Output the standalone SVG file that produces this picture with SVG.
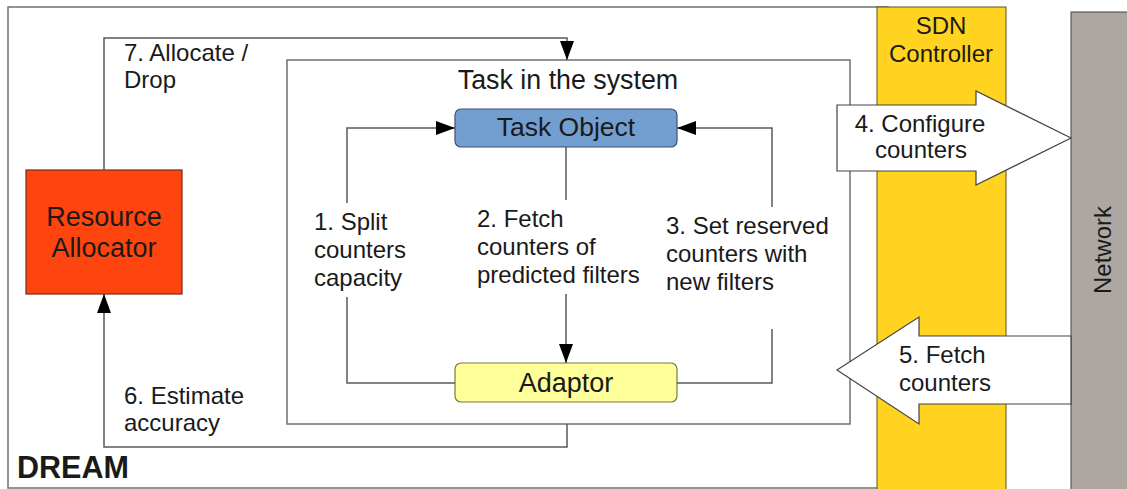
<svg xmlns="http://www.w3.org/2000/svg" width="1127" height="489" viewBox="0 0 1127 489">
  <defs>
    <marker id="head" markerUnits="userSpaceOnUse" markerWidth="20" markerHeight="14" refX="19" refY="7" orient="auto">
      <path d="M0,0 L19,7 L0,14 z" fill="#000"/>
    </marker>
    <style>
      text { font-family: "Liberation Sans", Arial, sans-serif; fill: #1a1a1a; }
      .lbl { font-size: 24px; }
      .big { font-size: 26.5px; }
      .mid { text-anchor: middle; }
      .frame { fill: none; stroke: #707070; stroke-width: 1.5; }
      .wire { fill: none; stroke: #5a5a5a; stroke-width: 1.5; }
      .fat { fill: #fff; stroke: #444; stroke-width: 1.2; stroke-linejoin: miter; }
    </style>
  </defs>
  <rect width="1127" height="489" fill="#fff"/>

  <!-- DREAM frame -->
  <g id="dream">
    <rect class="frame" x="8" y="7" width="880" height="481"/>
    <text x="17" y="478" style="font-size:30.5px;font-weight:bold" fill="#000">DREAM</text>
  </g>

  <!-- SDN controller band -->
  <g id="sdn-controller">
    <rect x="877" y="7" width="129" height="490" fill="#ffd320" stroke="#5e5316" stroke-width="1"/>
    <text class="lbl mid" x="941" y="34">SDN</text>
    <text class="lbl mid" x="941" y="62">Controller</text>
  </g>

  <!-- Network band -->
  <g id="network">
    <rect x="1071" y="12" width="70" height="490" fill="#aea7a1" stroke="#444" stroke-width="1"/>
    <text class="lbl mid" transform="translate(1111,250) rotate(-90)">Network</text>
  </g>

  <!-- Task in the system -->
  <g id="task-system">
    <rect class="frame" x="287" y="60" width="563" height="364"/>
    <text class="mid" x="568" y="89" style="font-size:26.8px">Task in the system</text>
  </g>

  <g id="resource-allocator">
    <rect x="26" y="170" width="156" height="124" fill="#ff450f" stroke="#7a2a12" stroke-width="1.2"/>
    <text class="mid" x="104" y="226" style="font-size:27px">Resource</text>
    <text class="mid" x="104" y="257" style="font-size:27px">Allocator</text>
  </g>

  <g id="task-object">
    <rect x="455" y="109" width="222" height="38" rx="6" fill="#729fcf" stroke="#3a5270" stroke-width="1.2"/>
    <text class="big mid" x="566" y="136">Task Object</text>
  </g>

  <g id="adaptor">
    <rect x="455" y="363" width="222" height="39" rx="6" fill="#ffff99" stroke="#7a7a3a" stroke-width="1.2"/>
    <text class="mid" x="566" y="392" style="font-size:27px">Adaptor</text>
  </g>

  <!-- connectors -->
  <g id="connectors">
    <path class="wire" d="M104,170 V38 H567 V60" marker-end="url(#head)"/>
    <path class="wire" d="M347,203 V128 H455" marker-end="url(#head)"/>
    <path class="wire" d="M347,297 V383 H455"/>
    <path class="wire" d="M566,147 V200"/>
    <path class="wire" d="M566,294 V363" marker-end="url(#head)"/>
    <path class="wire" d="M772,207 V128 H677" marker-end="url(#head)"/>
    <path class="wire" d="M772,329 V383 H677"/>
    <path class="wire" d="M567,424 V447 H104 V294" marker-end="url(#head)"/>

    <polygon class="fat" points="837,105 976,105 976,91 1071,138 976,185 976,171 837,171"/>
    <polygon class="fat" points="1071,336 919,336 919,317 837,370 919,424 919,404 1071,404"/>
  </g>

  <!-- connector labels -->
  <g id="labels" class="lbl">
    <text x="124" y="61">7. Allocate /</text>
    <text x="124" y="88">Drop</text>
    <text x="314" y="230">1. Split</text>
    <text x="314" y="258">counters</text>
    <text x="314" y="286">capacity</text>
    <text x="477" y="227">2. Fetch</text>
    <text x="477" y="255">counters of</text>
    <text x="477" y="283">predicted filters</text>
    <text x="666" y="234">3. Set reserved</text>
    <text x="666" y="262">counters with</text>
    <text x="666" y="290">new filters</text>
    <text class="mid" x="920" y="132">4. Configure</text>
    <text class="mid" x="921" y="158">counters</text>
    <text x="899" y="363">5. Fetch</text>
    <text x="899" y="391">counters</text>
    <text x="124" y="404">6. Estimate</text>
    <text x="124" y="431">accuracy</text>
  </g>
</svg>
